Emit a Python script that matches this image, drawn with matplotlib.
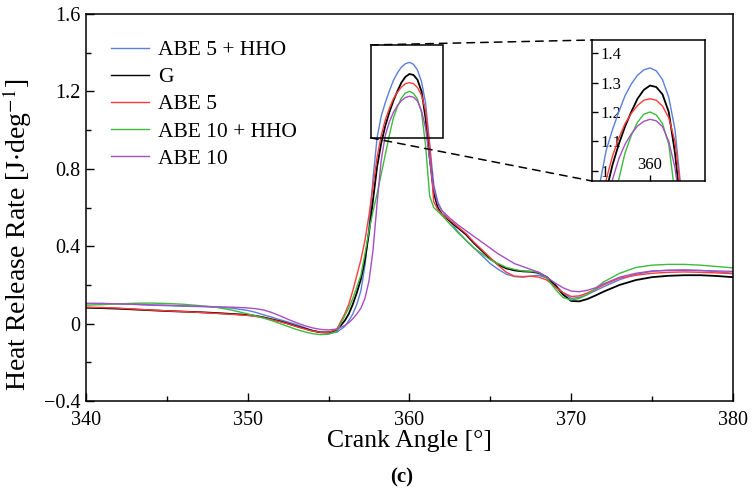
import matplotlib
matplotlib.use("Agg")
import matplotlib.pyplot as plt
from matplotlib.patches import Rectangle, ConnectionPatch
from matplotlib.ticker import MultipleLocator, FuncFormatter, FixedLocator

plt.rcParams['font.family'] = ['Liberation Serif', 'DejaVu Serif']
plt.rcParams['mathtext.fontset'] = 'stix'

# Crank angle grid (deg), shared by all fuels
crank_angle = [340, 341, 342, 343, 344, 345, 346, 347, 348, 349, 350, 350.5, 351, 351.5,
               352, 352.5, 353, 353.5, 354, 354.5, 355, 355.5, 356, 356.25, 356.5, 356.75,
               357, 357.25, 357.5, 357.75, 358, 358.25, 358.5, 358.75, 359, 359.25, 359.5,
               359.75, 360, 360.25, 360.5, 360.75, 361, 361.25, 361.5, 361.75, 362, 362.5,
               363, 363.5, 364, 364.5, 365, 365.5, 366, 366.5, 367, 367.5, 368, 368.5, 369,
               369.5, 370, 370.5, 371, 371.5, 372, 373, 374, 375, 376, 377, 378, 379, 380]

# Heat release rate (J/deg)
hrr_abe5_hho = [0.103, 0.104, 0.102, 0.099, 0.095, 0.093, 0.090, 0.088, 0.085, 0.080, 0.068, 0.058,
                0.045, 0.033, 0.020, 0.008, -0.005, -0.020, -0.035, -0.045, -0.050, -0.045, -0.015,
                0.015, 0.050, 0.100, 0.170, 0.300, 0.500, 0.750, 0.960, 1.070, 1.140, 1.200, 1.255,
                1.295, 1.325, 1.343, 1.350, 1.340, 1.310, 1.250, 1.140, 0.930, 0.720, 0.630, 0.585,
                0.530, 0.475, 0.430, 0.390, 0.350, 0.310, 0.280, 0.255, 0.243, 0.240, 0.245, 0.250,
                0.235, 0.200, 0.160, 0.130, 0.135, 0.150, 0.170, 0.190, 0.227, 0.255, 0.270, 0.276,
                0.278, 0.275, 0.268, 0.260]

hrr_g = [0.082, 0.080, 0.077, 0.073, 0.069, 0.065, 0.062, 0.059, 0.055, 0.050, 0.045, 0.040,
         0.032, 0.022, 0.012, 0.000, -0.013, -0.025, -0.037, -0.045, -0.045, -0.035, 0.015,
         0.050, 0.100, 0.160, 0.230, 0.330, 0.470, 0.640, 0.810, 0.930, 1.020, 1.090, 1.150,
         1.200, 1.245, 1.275, 1.290, 1.285, 1.260, 1.200, 1.060, 0.860, 0.680, 0.600, 0.565,
         0.530, 0.495, 0.460, 0.415, 0.375, 0.335, 0.305, 0.285, 0.275, 0.270, 0.268, 0.262,
         0.240, 0.200, 0.150, 0.117, 0.115, 0.127, 0.145, 0.165, 0.200, 0.225, 0.240, 0.247,
         0.250, 0.250, 0.246, 0.240]

hrr_abe5 = [0.085, 0.083, 0.080, 0.075, 0.070, 0.066, 0.062, 0.058, 0.053, 0.048, 0.042, 0.037,
            0.030, 0.020, 0.010, -0.002, -0.015, -0.027, -0.038, -0.045, -0.045, -0.030, 0.050,
            0.100, 0.170, 0.250, 0.330, 0.430, 0.560, 0.710, 0.860, 0.970, 1.050, 1.110, 1.160,
            1.195, 1.222, 1.240, 1.245, 1.240, 1.220, 1.180, 1.100, 0.920, 0.630, 0.590, 0.565,
            0.535, 0.500, 0.465, 0.420, 0.380, 0.340, 0.300, 0.265, 0.245, 0.243, 0.245, 0.240,
            0.225, 0.190, 0.160, 0.140, 0.143, 0.158, 0.178, 0.200, 0.235, 0.250, 0.260, 0.265,
            0.267, 0.265, 0.262, 0.258]

hrr_abe10_hho = [0.095, 0.098, 0.102, 0.105, 0.106, 0.104, 0.100, 0.093, 0.085, 0.070, 0.050, 0.040,
                 0.028, 0.015, 0.000, -0.015, -0.030, -0.042, -0.052, -0.057, -0.055, -0.040, 0.040,
                 0.080, 0.130, 0.190, 0.250, 0.360, 0.480, 0.580, 0.670, 0.770, 0.870, 0.970, 1.060,
                 1.120, 1.165, 1.192, 1.200, 1.190, 1.160, 1.090, 0.920, 0.660, 0.600, 0.580, 0.560,
                 0.515, 0.470, 0.430, 0.390, 0.360, 0.330, 0.310, 0.290, 0.280, 0.272, 0.270, 0.265,
                 0.235, 0.180, 0.135, 0.122, 0.130, 0.150, 0.180, 0.215, 0.260, 0.290, 0.302, 0.306,
                 0.306, 0.302, 0.295, 0.288]

hrr_abe10 = [0.105, 0.104, 0.102, 0.100, 0.097, 0.095, 0.092, 0.090, 0.087, 0.085, 0.081, 0.077,
             0.070, 0.057, 0.040, 0.022, 0.005, -0.010, -0.022, -0.030, -0.033, -0.028, -0.010,
             0.005, 0.025, 0.050, 0.080, 0.130, 0.220, 0.380, 0.620, 0.840, 0.970, 1.040, 1.090,
             1.125, 1.152, 1.168, 1.175, 1.170, 1.150, 1.100, 1.010, 0.850, 0.700, 0.620, 0.585,
             0.545, 0.510, 0.480, 0.450, 0.420, 0.390, 0.360, 0.335, 0.310, 0.295, 0.280, 0.265,
             0.240, 0.210, 0.185, 0.168, 0.165, 0.172, 0.185, 0.205, 0.240, 0.260, 0.272, 0.275,
             0.275, 0.274, 0.272, 0.270]

labels = ["ABE 5 + HHO", "G", "ABE 5", "ABE 10 + HHO", "ABE 10"]
colors = ["#5b7fdc", "#000000", "#ff3a3a", "#3dbb3d", "#a54fc2"]
series = [hrr_abe5_hho, hrr_g, hrr_abe5, hrr_abe10_hho, hrr_abe10]
widths = [1.0, 1.3, 1.0, 1.0, 1.0]

fig = plt.figure(figsize=(7.54, 5.0), dpi=100)
ax = fig.add_axes([0.114, 0.198, 0.858, 0.774])

for y, c, lab, lw in zip(series, colors, labels, widths):
    ax.plot(crank_angle, y, color=c, lw=lw, label=lab)

ax.set_xlim(340, 380)
ax.set_ylim(-0.4, 1.6)
ax.xaxis.set_major_locator(MultipleLocator(10))
ax.xaxis.set_minor_locator(MultipleLocator(5))
ax.yaxis.set_major_locator(MultipleLocator(0.4))
ax.yaxis.set_minor_locator(MultipleLocator(0.2))
fmt = FuncFormatter(lambda v, p: ("%g" % round(v, 3)).replace("-", "\u2212"))
ax.yaxis.set_major_formatter(fmt)
ax.xaxis.set_major_formatter(fmt)
ax.tick_params(which='both', direction='in', top=False, right=False, labelsize=14.5, width=1.0)
ax.tick_params(which='major', length=6)
ax.tick_params(which='minor', length=3.5)
ax.tick_params(axis='y', which='major', pad=4)
ax.tick_params(axis='x', which='major', pad=7)
for s in ax.spines.values():
    s.set_linewidth(1.1)

ax.set_xlabel("Crank Angle [°]", fontsize=18.5, labelpad=0)
ax.set_ylabel("Heat Release Rate [J$\\cdot$deg$^{-1}$]", fontsize=20)
ax.yaxis.set_label_coords(-0.08, 0.43)

leg = ax.legend(loc='upper left', bbox_to_anchor=(0.025, 0.955), frameon=False, fontsize=15.5,
                handlelength=1.8, handletextpad=0.4, labelspacing=0.33, borderaxespad=0.0)
for h in leg.get_lines():
    h.set_linewidth(1.0)

# zoom window around the peak
x0, x1, y0, y1 = 357.6, 362.1, 0.96, 1.44
ax.add_patch(Rectangle((x0, y0), x1 - x0, y1 - y0, fill=False, ec='black', lw=1.1, zorder=5))

axins = fig.add_axes([592 / 754, 1 - 181 / 500, 113 / 754, 141 / 500])
for y, c, lw in zip(series, colors, widths):
    axins.plot(crank_angle, y, color=c, lw=lw)
axins.set_xlim(357.68, 362.2)
axins.set_ylim(0.965, 1.445)
axins.xaxis.set_major_locator(FixedLocator([360]))
axins.yaxis.set_major_locator(MultipleLocator(0.1))
axins.yaxis.set_major_formatter(fmt)
axins.xaxis.set_major_formatter(fmt)
axins.tick_params(direction='in', length=4, labelsize=12, width=1.0)
axins.tick_params(axis='y', pad=-6)
axins.tick_params(axis='x', pad=-17)
for lbl in axins.get_yticklabels():
    lbl.set_horizontalalignment('left')
for s in axins.spines.values():
    s.set_linewidth(1.1)

for ya, yb in [(y1, 1.0), (y0, 0.0)]:
    con = ConnectionPatch(xyA=(x0, ya), coordsA=ax.transData, xyB=(0, yb), coordsB=axins.transAxes,
                          color='black', lw=1.1, linestyle=(0, (5, 4)))
    fig.add_artist(con)

fig.text(0.532, 0.046, "(c)", ha='center', va='center', fontsize=15, fontweight='bold')

fig.savefig("out.png", dpi=100)
